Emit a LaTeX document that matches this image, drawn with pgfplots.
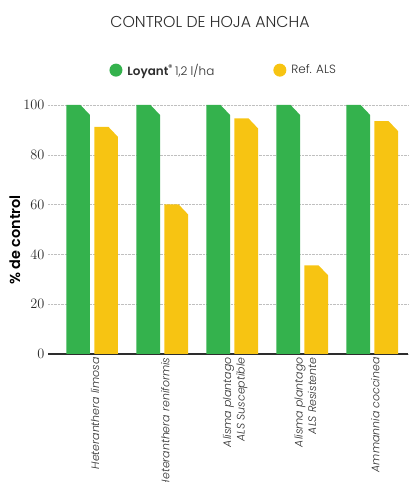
\documentclass[border=0pt]{standalone}
\usepackage{pgfplots}
\pgfplotsset{compat=1.18}
\usepackage{fontspec}
\setmainfont{Poppins}[UprightFont={* Light}, ItalicFont={* Light Italic}, BoldFont={* SemiBold}, BoldItalicFont={* SemiBold Italic}]
\definecolor{lgreen}{RGB}{52,178,77}
\definecolor{lyellow}{RGB}{247,196,18}
\definecolor{axisdark}{RGB}{45,45,45}
\makeatletter
\newdimen\chxa \newdimen\chya \newdimen\chxb \newdimen\chyb
\def\chamferrect#1#2{%
  \pgf@process{#1}\chxa=\pgf@x \chya=\pgf@y
  \pgf@process{#2}\chxb=\pgf@x \chyb=\pgf@y
  \ifdim\chxa>\chxb \pgf@x=\chxa \chxa=\chxb \chxb=\pgf@x \fi
  \ifdim\chya>\chyb \pgf@y=\chya \chya=\chyb \chyb=\pgf@y \fi
  \pgfpathmoveto{\pgfqpoint{\chxa}{\chya}}%
  \pgfpathlineto{\pgfqpoint{\chxa}{\chyb}}%
  \pgfpathlineto{\pgfqpoint{\dimexpr\chxb-9.5bp\relax}{\chyb}}%
  \pgfpathlineto{\pgfqpoint{\chxb}{\dimexpr\chyb-10bp\relax}}%
  \pgfpathlineto{\pgfqpoint{\chxb}{\chya}}%
  \pgfpathclose
}
\def\chamferrectsize#1#2{%
  \pgf@process{#1}\chxa=\pgf@x \chya=\pgf@y
  \pgf@process{#2}\chxb=\pgf@x \chyb=\pgf@y
  \advance\chxb by \chxa
  \advance\chyb by \chya
  \chamferrect{\pgfqpoint{\chxa}{\chya}}{\pgfqpoint{\chxb}{\chyb}}%
}
\let\origrectcorners\pgfpathrectanglecorners
\let\origrect\pgfpathrectangle
\def\chamferon{\global\let\pgfpathrectanglecorners\chamferrect\global\let\pgfpathrectangle\chamferrectsize}
\def\chamferoff{\global\let\pgfpathrectanglecorners\origrectcorners\global\let\pgfpathrectangle\origrect}
\makeatother
\begin{document}
\begin{tikzpicture}
\useasboundingbox (0,0) rectangle (409bp,482bp);
\node[font=\fontsize{15.8}{17}\selectfont, text=axisdark] at (210bp,460bp) {CONTROL DE HOJA ANCHA};
\begin{axis}[
  at={(48bp,128bp)}, anchor=south west,
  scale only axis, width=360bp, height=249bp,
  clip=false,
  ybar, bar width=23.7bp,
  xmin=-0.63, xmax=4.51, ymin=0, ymax=100,
  axis lines*=left,
  y axis line style={draw=none},
  x axis line style={line width=1.8pt, draw=axisdark, -},
  major tick length=0pt,
  ytick={0,20,40,60,80,100},
  ymajorgrids, grid style={densely dotted, gray!50, line width=0.5pt},
  yticklabel style={font=\fontsize{14}{16}\selectfont, text=axisdark, xshift=0bp},
  xtick=data,
  xticklabels={{Heteranthera limosa},{Heteranthera reniformis},{Alisma plantago\\ALS Susceptible},{Alisma plantago\\ALS Resistente},{Ammannia coccinea}},
  xticklabel style={rotate=90, anchor=east, align=right, font=\itshape\fontsize{11}{13.5}\selectfont, text=axisdark, yshift=-3bp},
  ylabel={\textbf{\% de control}},
  ylabel style={at={(axis description cs:-0.092,0.458)}, anchor=center, font=\fontsize{14.5}{16}\selectfont, text=black},
  legend columns=2,
  legend style={draw=none, fill=none, at={(axis description cs:0.488,1.14)}, anchor=center, font=\fontsize{12}{14}\selectfont, text=axisdark, /tikz/every even column/.append style={column sep=57bp}},
  execute at begin plot visualization={\chamferon},
  execute at end plot visualization={\chamferoff},
]
\addplot[fill=lgreen, draw=none, bar shift=-14bp, legend image code/.code={\fill[lgreen] (0,0) circle (6.5bp); \path (9bp,0) -- (9.5bp,0);}] coordinates {(0,100) (1,100) (2,100) (3,100) (4,100)};
\addlegendentry{\textbf{Loyant}\textsuperscript{\textbf{®}}\,1,2 l/ha}
\addplot[fill=lyellow, draw=none, bar shift=14bp, legend image code/.code={\fill[lyellow] (0,0) circle (6.5bp); \path (9bp,0) -- (9.5bp,0);}] coordinates {(0,91.2) (1,60.1) (2,94.6) (3,35.6) (4,93.5)};
\addlegendentry{Ref. ALS}
\end{axis}
\end{tikzpicture}
\end{document}
